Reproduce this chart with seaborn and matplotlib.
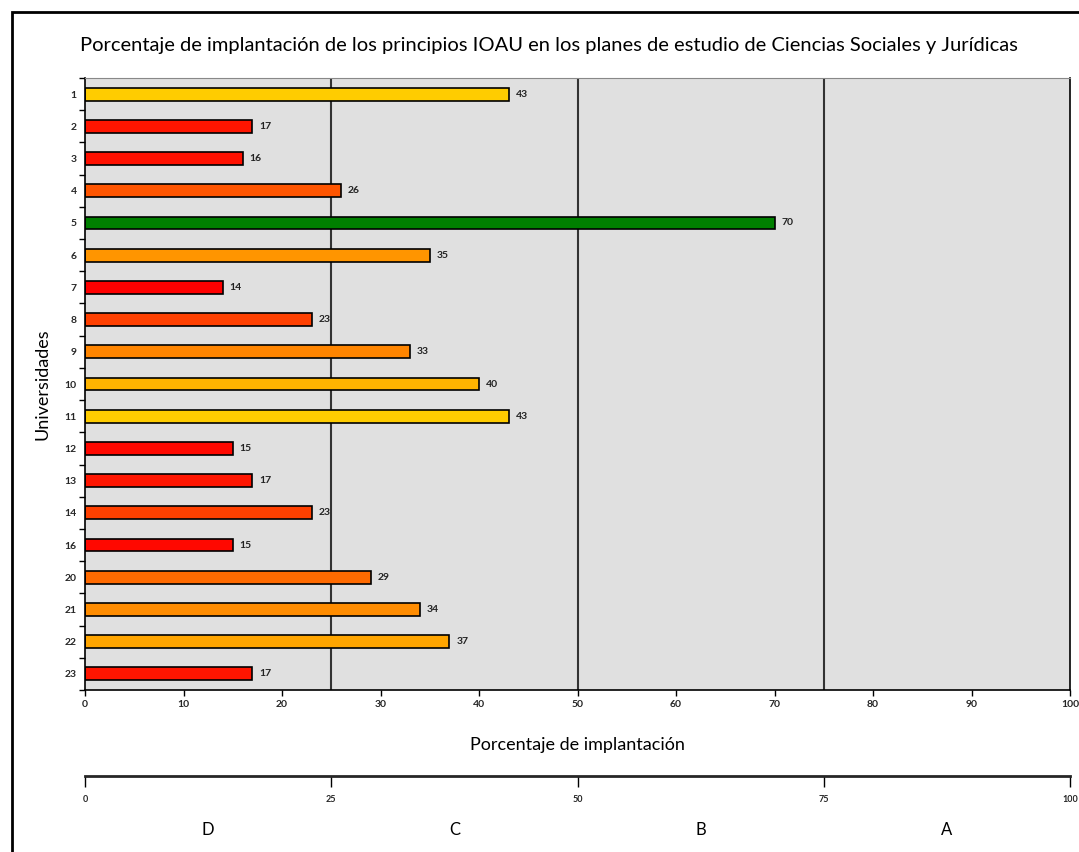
import pandas as pd
import seaborn as sns
import matplotlib.pyplot as plt
from matplotlib.patches import Rectangle

# =====================================================
# Data
# =====================================================

universidades = ["1", "2", "3", "4", "5", "6", "7", "8", "9", "10", "11",
                 "12", "13", "14", "16", "20", "21", "22", "23"]
porcentajes = [43, 17, 16, 26, 70, 35, 14, 23, 33, 40, 43,
               15, 17, 23, 15, 29, 34, 37, 17]
colores = ["#FFCC00", "#FF1500", "#FF1000", "#FF5500", "#008000", "#FF9500",
           "#FF0000", "#FF4000", "#FF8500", "#FFB400", "#FFCC00",
           "#FF0800", "#FF1500", "#FF4000", "#FF0800", "#FF6A00",
           "#FF8C00", "#FFA500", "#FF1500"]

niveles_pos = [12.5, 37.5, 62.5, 87.5]
niveles = ["D", "C", "B", "A"]
escala_ticks = [0, 25, 50, 75, 100]

df = pd.DataFrame({"uni": universidades, "pct": porcentajes})

sns.set_style("white")
plt.rcParams["font.family"] = ["Lato", "DejaVu Sans"]

W, H = 1079, 852
fig = plt.figure(figsize=(W / 100, H / 100), dpi=100)

# frame around the figure (left/top visible in reference)
fig.patches.append(Rectangle((12 / W, -0.1), 1.2, 1 - 12 / H + 0.1,
                             transform=fig.transFigure, fill=False,
                             edgecolor="black", linewidth=2))

ax = fig.add_axes([85 / W, 1 - 690 / H, 985 / W, (690 - 78) / H])
ax.set_facecolor("#E0E0E0")

sns.barplot(
    data=df,
    y="uni",
    x="pct",
    hue="uni",
    palette=colores,
    saturation=1,
    legend=False,
    orient="h",
    width=0.4,
    edgecolor="black",
    linewidth=1.2,
    ax=ax
)

for x in [25, 50, 75]:
    ax.axvline(x, color="#333333", linewidth=1.5, zorder=0.5)

for i, v in enumerate(porcentajes):
    ax.text(v + 0.7, i, str(v), va="center", ha="left",
            fontsize=7.5, fontweight="bold", color="#222222")

ax.set_xlim(0, 100)
ax.set_ylim(len(universidades) - 0.5, -0.5)
ax.set_xticks(range(0, 101, 10))
ax.tick_params(axis="x", bottom=True, labelsize=7.5, length=4, width=1,
               color="black")
for lab in ax.get_xticklabels():
    lab.set_fontweight("bold")
ax.set_yticks(range(len(universidades)))
ax.set_yticklabels(universidades, fontsize=7.5, fontweight="bold")
ax.tick_params(axis="y", left=True, length=0, pad=6)
ax.set_yticks([i + 0.5 for i in range(-1, len(universidades))], minor=True)
ax.tick_params(axis="y", which="minor", left=True, length=4, width=1,
               color="black")

for s in ["left", "bottom", "right"]:
    ax.spines[s].set_color("black")
    ax.spines[s].set_linewidth(1.2)
ax.spines["top"].set_color("#888888")

ax.set_xlabel("")
ax.set_ylabel("Universidades", fontsize=13, labelpad=10, color="black")

fig.text(549 / W, 1 - 45 / H,
         "Porcentaje de implantación de los principios IOAU en los planes de estudio de Ciencias Sociales y Jurídicas",
         ha="center", va="center", fontsize=14.5, color="black")
fig.text(0.5 * (85 + 1070) / W, 1 - 745 / H, "Porcentaje de implantación",
         ha="center", va="center", fontsize=13, color="black")

# =====================================================
# Scale axis with levels
# =====================================================

ax2 = fig.add_axes([85 / W, 1 - 776 / H, 985 / W, 0.001])
ax2.set_xlim(0, 100)
ax2.set_yticks([])
ax2.set_xticks(escala_ticks)
ax2.set_xticklabels([str(t) for t in escala_ticks], fontsize=6.5,
                    fontweight="bold")
ax2.tick_params(axis="x", bottom=True, length=8, width=1, pad=6,
                color="black")
for s in ["left", "right", "top"]:
    ax2.spines[s].set_visible(False)
ax2.spines["bottom"].set_linewidth(2)
ax2.set_facecolor("none")

for p, n in zip(niveles_pos, niveles):
    fig.text((85 + p / 100 * 985) / W, 1 - 830 / H, n,
             ha="center", va="center", fontsize=12, color="black")

plt.savefig("out.png", dpi=100)
plt.close()
